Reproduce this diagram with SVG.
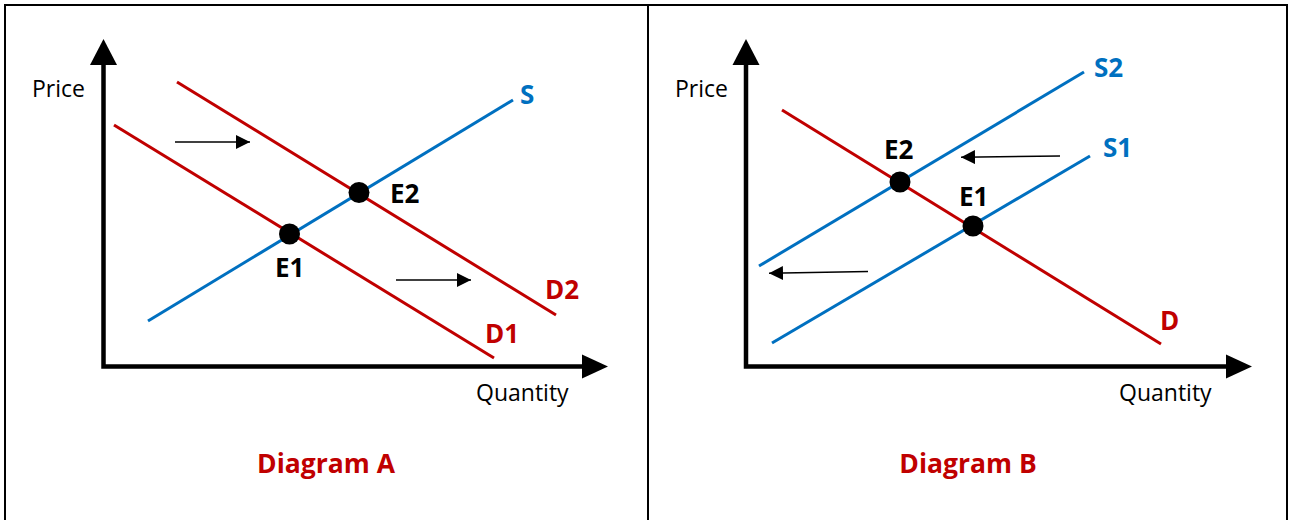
<svg xmlns="http://www.w3.org/2000/svg" width="1290" height="520" viewBox="0 0 1290 520">
  <defs>
    <marker id="small" viewBox="0 0 14 14" refX="14" refY="7" markerWidth="14" markerHeight="14" markerUnits="userSpaceOnUse" orient="auto">
      <path d="M0,0 L14,7 L0,14 Z" fill="#000"/>
    </marker>
    <style>
      .frame { fill: none; stroke: #000; stroke-width: 2; }
      .axis { stroke: #000; stroke-width: 4.5; fill: none; }
      .head { fill: #000; }
      .sup { stroke: #0070C0; stroke-width: 3; fill: none; }
      .dem { stroke: #C00000; stroke-width: 3; fill: none; }
      .shift { stroke: #000; stroke-width: 1.5; fill: none; }
      .dot { fill: #000; }
      .axlabel { font-family: "Open Sans", "Liberation Sans", sans-serif; font-size: 23px; fill: #000; }
      .lab { font-family: "Open Sans", "Liberation Sans", sans-serif; font-size: 26px; font-weight: bold; }
      .blk { fill: #000; }
      .blue { fill: #0070C0; }
      .red { fill: #C00000; }
      .title { font-family: "Open Sans", "Liberation Sans", sans-serif; font-size: 26.5px; font-weight: bold; fill: #C00000; text-anchor: middle; }
    </style>
  </defs>

  <rect width="1290" height="520" fill="#fff"/>
  <g id="frame">
    <rect class="frame" x="5" y="5" width="1282" height="530"/>
    <line class="frame" x1="648" y1="5" x2="648" y2="520"/>
  </g>

  <!-- Diagram A -->
  <g id="axesA">
    <polyline class="axis" points="103.5,62 103.5,366.5 584,366.5"/>
    <path class="head" d="M103.5,39 L117,65 L90,65 Z"/>
    <path class="head" d="M608,366.5 L582,354.5 L582,378.5 Z"/>
    <text class="axlabel" x="32" y="97">Price</text>
    <text class="axlabel" x="476" y="401">Quantity</text>
  </g>
  <g id="curvesA">
    <line id="S-A" class="sup" x1="148" y1="321" x2="513" y2="100"/>
    <line id="D1" class="dem" x1="114" y1="125" x2="494" y2="358"/>
    <line id="D2" class="dem" x1="177" y1="82" x2="556" y2="315"/>
  </g>
  <g id="connectorsA">
    <line class="shift" x1="175" y1="142" x2="250" y2="142" marker-end="url(#small)"/>
    <line class="shift" x1="396" y1="280" x2="471" y2="280" marker-end="url(#small)"/>
  </g>
  <g id="E1-A">
    <circle class="dot" cx="289.5" cy="234" r="10.5"/>
    <text class="lab blk" x="275" y="277">E1</text>
  </g>
  <g id="E2-A">
    <circle class="dot" cx="359" cy="192.5" r="10.5"/>
    <text class="lab blk" x="390" y="203">E2</text>
  </g>
  <g id="labelsA">
    <text class="lab blue" x="520" y="104">S</text>
    <text class="lab red" x="545" y="299">D2</text>
    <text class="lab red" x="485" y="343">D1</text>
  </g>
  <text id="titleA" class="title" x="326" y="473">Diagram A</text>

  <!-- Diagram B -->
  <g id="axesB">
    <polyline class="axis" points="746,62 746,366.5 1228,366.5"/>
    <path class="head" d="M746,39 L759.5,65 L732.5,65 Z"/>
    <path class="head" d="M1252,366.5 L1226,354.5 L1226,378.5 Z"/>
    <text class="axlabel" x="675" y="97">Price</text>
    <text class="axlabel" x="1119" y="401">Quantity</text>
  </g>
  <g id="curvesB">
    <line id="D-B" class="dem" x1="782" y1="110" x2="1161" y2="344"/>
    <line id="S2" class="sup" x1="759" y1="266" x2="1084" y2="72"/>
    <line id="S1" class="sup" x1="772" y1="343" x2="1090" y2="156"/>
  </g>
  <g id="connectorsB">
    <line class="shift" x1="1060" y1="156" x2="961" y2="157.3" marker-end="url(#small)"/>
    <line class="shift" x1="868" y1="271.5" x2="769" y2="273.3" marker-end="url(#small)"/>
  </g>
  <g id="E2-B">
    <circle class="dot" cx="900" cy="182" r="10.5"/>
    <text class="lab blk" x="884" y="159">E2</text>
  </g>
  <g id="E1-B">
    <circle class="dot" cx="973" cy="226" r="10.5"/>
    <text class="lab blk" x="959" y="206">E1</text>
  </g>
  <g id="labelsB">
    <text class="lab blue" x="1094" y="77">S2</text>
    <text class="lab blue" x="1103" y="157">S1</text>
    <text class="lab red" x="1160" y="330">D</text>
  </g>
  <text id="titleB" class="title" x="968" y="473">Diagram B</text>
</svg>
